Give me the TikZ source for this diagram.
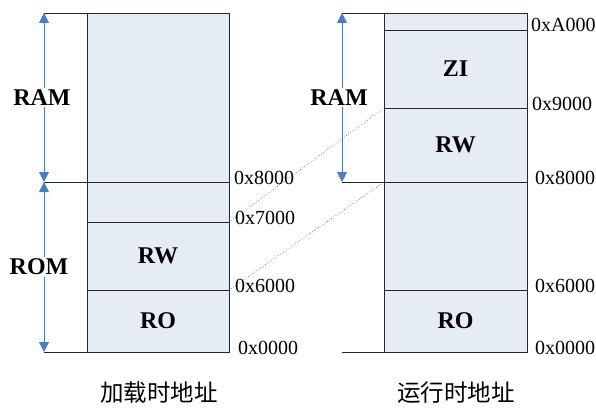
\documentclass[tikz,border=0pt]{standalone}
\usepackage{fontspec}
\setmainfont{Liberation Serif}
\newfontfamily\cjk{Noto Sans CJK SC}
\usetikzlibrary{arrows.meta,positioning}
\definecolor{memfill}{RGB}{230,236,246}
\definecolor{arrowblue}{RGB}{74,126,193}

\begin{document}
\begin{tikzpicture}[
  x=1pt, y=1pt,
  node distance=0pt,
  seg/.style={draw=black!85, fill=memfill, minimum width=142pt, inner sep=0pt, outer sep=0pt, line width=0.7pt, font=\fontsize{24}{24}\selectfont\bfseries},
  addr/.style={anchor=base west, inner sep=0pt, font=\fontsize{20}{20}\selectfont},
  spanarrow/.style={{Triangle[length=10pt,width=10pt]}-{Triangle[length=10pt,width=10pt]}, draw=arrowblue, line width=0.9pt},
  spanlabel/.style={fill=white, inner sep=2pt, text=black, font=\fontsize{24}{24}\selectfont\bfseries},
  boundary/.style={draw=black!85, line width=0.7pt},
  mapline/.style={draw=black!70, dotted, line width=0.6pt},
  capt/.style={font=\cjk\fontsize{23.5}{23.5}\selectfont},
]
\useasboundingbox (0,0) rectangle (596,408);

% load view
\node[seg, minimum height=62pt, anchor=south west] (lRO) at (87,56) {RO};
\node[seg, minimum height=68pt, above=of lRO] (lRW) {RW};
\node[seg, minimum height=40pt, above=of lRW] (lFree) {};
\node[seg, minimum height=169pt, above=of lFree] (lRAM) {};

\coordinate (lTop) at (44,395);
\coordinate (lMid) at (44,226);
\coordinate (lBot) at (44,56);
\draw[boundary] (lTop) -- (lRAM.north west);
\draw[boundary] (lMid) -- (lRAM.south west);
\draw[boundary] (lBot) -- (lRO.south west);
\draw[spanarrow] (lTop) -- node[spanlabel, xshift=-2pt] (lRamLbl) {RAM} (lMid);
\draw[spanarrow] (lMid) -- node[spanlabel, xshift=-5pt] (lRomLbl) {ROM} (lBot);

\node[addr] (la0) at ([xshift=9pt,yshift=-2pt]lRO.south east) {0x0000};
\node[addr] (la6) at ([xshift=6pt,yshift=-2pt]lRO.north east) {0x6000};
\node[addr] (la7) at ([xshift=6pt,yshift=-2pt]lRW.north east) {0x7000};
\node[addr] (la8) at ([xshift=5pt,yshift=-2pt]lFree.north east) {0x8000};

% run view
\node[seg, minimum width=143pt, minimum height=62pt, anchor=south west] (rRO) at (384,56) {RO};
\node[seg, minimum width=143pt, minimum height=108pt, above=of rRO] (rFree) {};
\node[seg, minimum width=143pt, minimum height=74pt, above=of rFree] (rRW) {RW};
\node[seg, minimum width=143pt, minimum height=78pt, above=of rRW] (rZI) {ZI};
\node[seg, minimum width=143pt, minimum height=17pt, above=of rZI] (rTop) {};

\coordinate (rRamTop) at (342,395);
\coordinate (rRamBot) at (342,226);
\coordinate (rBot) at (342,56);
\draw[boundary] (rRamTop) -- (rTop.north west);
\draw[boundary] (rRamBot) -- (rRW.south west);
\draw[boundary] (rBot) -- (rRO.south west);
\draw[spanarrow] (rRamTop) -- node[spanlabel, xshift=-3pt] (rRamLbl) {RAM} (rRamBot);

\node[addr] (ra0) at ([xshift=8pt,yshift=-2pt]rRO.south east) {0x0000};
\node[addr] (ra6) at ([xshift=8pt,yshift=-2pt]rRO.north east) {0x6000};
\node[addr] (ra8) at ([xshift=8pt,yshift=-2pt]rFree.north east) {0x8000};
\node[addr] (ra9) at ([xshift=5pt,yshift=-2pt]rRW.north east) {0x9000};
\node[addr] (raA) at ([xshift=4pt,yshift=-2pt]rZI.north east) {0xA000};

% RW copied from load address to run address
\draw[mapline] (lRW.north east) -- (rRW.north west);
\draw[mapline] (lRW.south east) -- (rRW.south west);

\node[capt] (loadCap) at (159,15) {加载时地址};
\node[capt] (runCap) at (456,15) {运行时地址};
\end{tikzpicture}
\end{document}
